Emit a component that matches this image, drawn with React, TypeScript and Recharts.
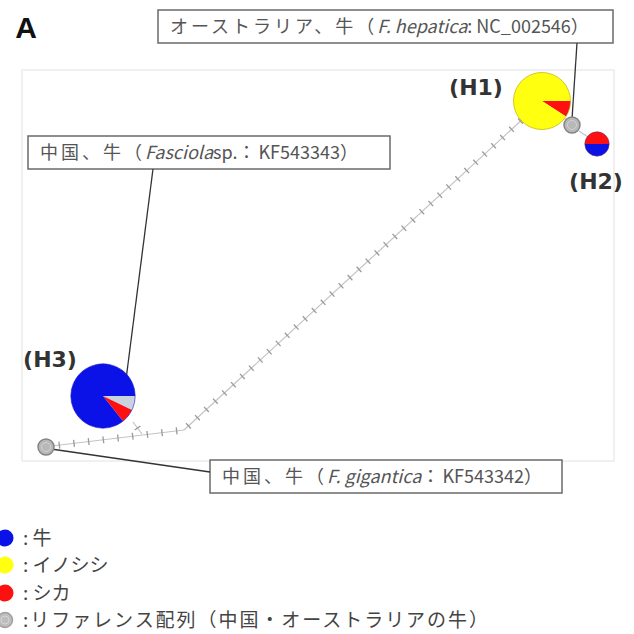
import React from 'react';
import {
	ScatterChart,
	Scatter,
	XAxis,
	YAxis,
	ReferenceLine,
	ReferenceArea,
	ReferenceDot,
} from 'recharts';

// haplotype nodes (network layout units = px of the figure)
const HAP_NAMES = ['(H1)', '(H2)', '(H3)'];
const HAP_X = [542, 597, 103];
const HAP_Y = [101, 144, 396];
// slices per haplotype, drawn clockwise from 3 o'clock
const HAP_HOSTS = [['deer', 'boar'], ['cow', 'deer'], ['ref', 'deer', 'cow']];
const HAP_COUNTS = [[1, 10], [1, 1], [1, 1, 12]];
const HAP_LABEL_X = [476, 596, 50];
const HAP_LABEL_Y = [95, 189, 367];

// reference sequences (single grey nodes)
const REF_NAMES = ['NC_002546', 'KF543342'];
const REF_X = [572, 46];
const REF_Y = [125, 447];

// network edges and number of mutational steps on each
const EDGE_X1 = [52, 184, 142, 563, 579];
const EDGE_Y1 = [446, 430, 434, 117, 131];
const EDGE_X2 = [184, 525, 133, 566, 588];
const EDGE_Y2 = [430, 117, 422, 120, 137];
const EDGE_STEPS = [9, 38, 1, 0, 0];

const HOST_COLORS: Record<string, string> = {
	cow: '#0b12e8',
	boar: '#ffff10',
	deer: '#ff1010',
	ref: '#c9d3e0',
};

const LEGEND_LABELS = [': 牛', ': イノシシ', ': シカ', ':リファレンス配列（中国・オーストラリアの牛）'];
const LEGEND_COLORS = ['#0b12e8', '#ffff10', '#ff1010', '#bdbdbd'];
const LEGEND_Y = [538, 565, 593, 620];

// annotation boxes: text parts [text, kind]  j = japanese, i = italic latin, n = latin
const NOTE_PARTS: [string, string][][] = [
	[['オーストラリア、牛（', 'j'], ['F. hepatica', 'i'], [': NC_002546', 'n'], ['）', 'j']],
	[['中国、牛（', 'j'], ['Fasciola', 'i'], ['sp.', 'n'], ['：', 'j'], ['KF543343', 'n'], ['）', 'j']],
	[['中国、牛（', 'j'], ['F. gigantica', 'i'], ['：', 'j'], ['KF543342', 'n'], ['）', 'j']],
];
const NOTE_BOX = [
	[158, 10, 613, 43],
	[28, 136, 390, 169],
	[210, 460, 562, 493],
];
const LEADERS = [
	[577, 43, 572, 119],
	[153, 169, 123, 403],
	[51, 449, 210, 472],
];

const FONT_JP = '"Noto Sans CJK JP", "Noto Sans", sans-serif';
const FONT_BOLD = '"DejaVu Sans", "Liberation Sans", sans-serif';

const hapData = HAP_NAMES.map((name, i) => ({
	name,
	x: HAP_X[i],
	y: HAP_Y[i],
	hosts: HAP_HOSTS[i],
	counts: HAP_COUNTS[i],
}));
const refData = REF_NAMES.map((name, i) => ({ name, x: REF_X[i], y: REF_Y[i] }));

function PieNode(props: any) {
	const { cx, cy, payload } = props;
	const counts: number[] = payload.counts;
	const total = counts.reduce((a, b) => a + b, 0);
	const r = 8.6 * Math.sqrt(total);
	let start = 0;
	const paths = counts.map((c, i) => {
		const span = (c / total) * Math.PI * 2;
		const end = start + span;
		const x1 = cx + r * Math.cos(start);
		const y1 = cy + r * Math.sin(start);
		const x2 = cx + r * Math.cos(end);
		const y2 = cy + r * Math.sin(end);
		const large = span > Math.PI ? 1 : 0;
		const d = `M${cx},${cy} L${x1},${y1} A${r},${r} 0 ${large} 1 ${x2},${y2} Z`;
		start = end;
		return <path key={i} d={d} fill={HOST_COLORS[payload.hosts[i]]} stroke="none" />;
	});
	const outline = payload.hosts.includes('boar') ? '#b9a300' : total > 2 ? '#1a1ac0' : '#6a2a6a';
	return (
		<g>
			{paths}
			<circle cx={cx} cy={cy} r={r} fill="none" stroke={outline} strokeWidth={1} strokeOpacity={0.6} />
		</g>
	);
}

function RefNode(props: any) {
	const { cx, cy } = props;
	return (
		<g>
			<circle cx={cx} cy={cy} r={8} fill="#b8b8b8" stroke="#858585" strokeWidth={1.5} />
			<circle cx={cx} cy={cy} r={4.5} fill="none" stroke="#d2d2d2" strokeWidth={1} />
		</g>
	);
}

function makeEdge(steps: number) {
	return (props: any) => {
		const { x1, y1, x2, y2 } = props;
		const dx = x2 - x1;
		const dy = y2 - y1;
		const len = Math.sqrt(dx * dx + dy * dy) || 1;
		const nx = -dy / len;
		const ny = dx / len;
		const ticks = [];
		for (let i = 0; i < steps; i++) {
			const t = (i + 0.5) / steps;
			const px = x1 + dx * t;
			const py = y1 + dy * t;
			ticks.push(
				<line key={i} x1={px - nx * 3.5} y1={py - ny * 3.5} x2={px + nx * 3.5} y2={py + ny * 3.5} stroke="#9a9a9a" strokeWidth={1.3} />
			);
		}
		return (
			<g>
				<line x1={x1} y1={y1} x2={x2} y2={y2} stroke="#c4c4c4" strokeWidth={1.2} />
				{ticks}
			</g>
		);
	};
}

function makeNote(i: number) {
	return (props: any) => {
		const { x, y, width, height } = props;
		return (
			<g>
				<rect x={x} y={y} width={width} height={height} fill="#fff" stroke="#6a6a6a" strokeWidth={1.5} />
				<text x={x + 12} y={y + height / 2 + 6.5} fontSize={18} fill="#555" fontFamily={FONT_JP}>
					{NOTE_PARTS[i].map(([t, kind], k) => (
						<tspan key={k} fontStyle={kind === 'i' ? 'italic' : 'normal'} letterSpacing={kind === 'j' ? 3 : 0}>
							{t}
						</tspan>
					))}
				</text>
			</g>
		);
	};
}

function makeHapLabel(text: string) {
	return (props: any) => (
		<text x={props.cx} y={props.cy} textAnchor="middle" fontSize={22} fontWeight="bold" fill="#333" fontFamily={FONT_BOLD}>
			{text}
		</text>
	);
}

function makeLegendItem(i: number) {
	return (props: any) => {
		const { cx, cy } = props;
		const isRef = i === 3;
		return (
			<g>
				<circle cx={cx} cy={cy} r={isRef ? 7.5 : 8.5} fill={LEGEND_COLORS[i]} stroke={isRef ? '#a0a0a0' : 'none'} strokeWidth={1.5} />
				{isRef && <circle cx={cx} cy={cy} r={4} fill="none" stroke="#d6d6d6" strokeWidth={1} />}
				<text
					x={cx + 18}
					y={cy + 7}
					fontSize={19}
					fill="#444"
					fontFamily={FONT_JP}
					textLength={isRef ? 465 : undefined}
					lengthAdjust="spacing"
				>
					{LEGEND_LABELS[i]}
				</text>
			</g>
		);
	};
}

export default function App() {
	return (
		<div style={{ position: 'absolute', left: 0, top: 0, width: 634, height: 634, background: '#fff' }}>
			<ScatterChart width={634} height={634} margin={{ top: 0, right: 0, bottom: 0, left: 0 }}>
				<XAxis type="number" dataKey="x" domain={[0, 634]} hide allowDataOverflow />
				<YAxis type="number" dataKey="y" domain={[0, 634]} reversed hide allowDataOverflow />

				{/* faint plotting frame */}
				<ReferenceArea x1={22} x2={614} y1={70} y2={461} fill="none" stroke="#ececec" strokeWidth={1.5} ifOverflow="visible" />

				{EDGE_STEPS.map((s, i) => (
					<ReferenceLine
						key={`e${i}`}
						segment={[
							{ x: EDGE_X1[i], y: EDGE_Y1[i] },
							{ x: EDGE_X2[i], y: EDGE_Y2[i] },
						]}
						ifOverflow="visible"
						shape={makeEdge(s)}
					/>
				))}

				{LEADERS.map((l, i) => (
					<ReferenceLine
						key={`l${i}`}
						segment={[
							{ x: l[0], y: l[1] },
							{ x: l[2], y: l[3] },
						]}
						stroke="#333"
						strokeWidth={1.3}
						ifOverflow="visible"
					/>
				))}

				<Scatter data={hapData} shape={PieNode} isAnimationActive={false} />
				<Scatter data={refData} shape={RefNode} isAnimationActive={false} />

				{NOTE_BOX.map((b, i) => (
					<ReferenceArea key={`n${i}`} x1={b[0]} x2={b[2]} y1={b[1]} y2={b[3]} ifOverflow="visible" shape={makeNote(i)} />
				))}

				{HAP_NAMES.map((h, i) => (
					<ReferenceDot key={`h${i}`} x={HAP_LABEL_X[i]} y={HAP_LABEL_Y[i]} ifOverflow="visible" shape={makeHapLabel(h)} />
				))}

				<ReferenceDot
					x={26}
					y={38}
					ifOverflow="visible"
					shape={(p: any) => (
						<text x={p.cx} y={p.cy} textAnchor="middle" fontSize={30} fontWeight="bold" fill="#111" fontFamily='"Liberation Sans", Arial, sans-serif'>
							A
						</text>
					)}
				/>

				{LEGEND_LABELS.map((_, i) => (
					<ReferenceDot key={`g${i}`} x={5} y={LEGEND_Y[i]} ifOverflow="visible" shape={makeLegendItem(i)} />
				))}
			</ScatterChart>
		</div>
	);
}
